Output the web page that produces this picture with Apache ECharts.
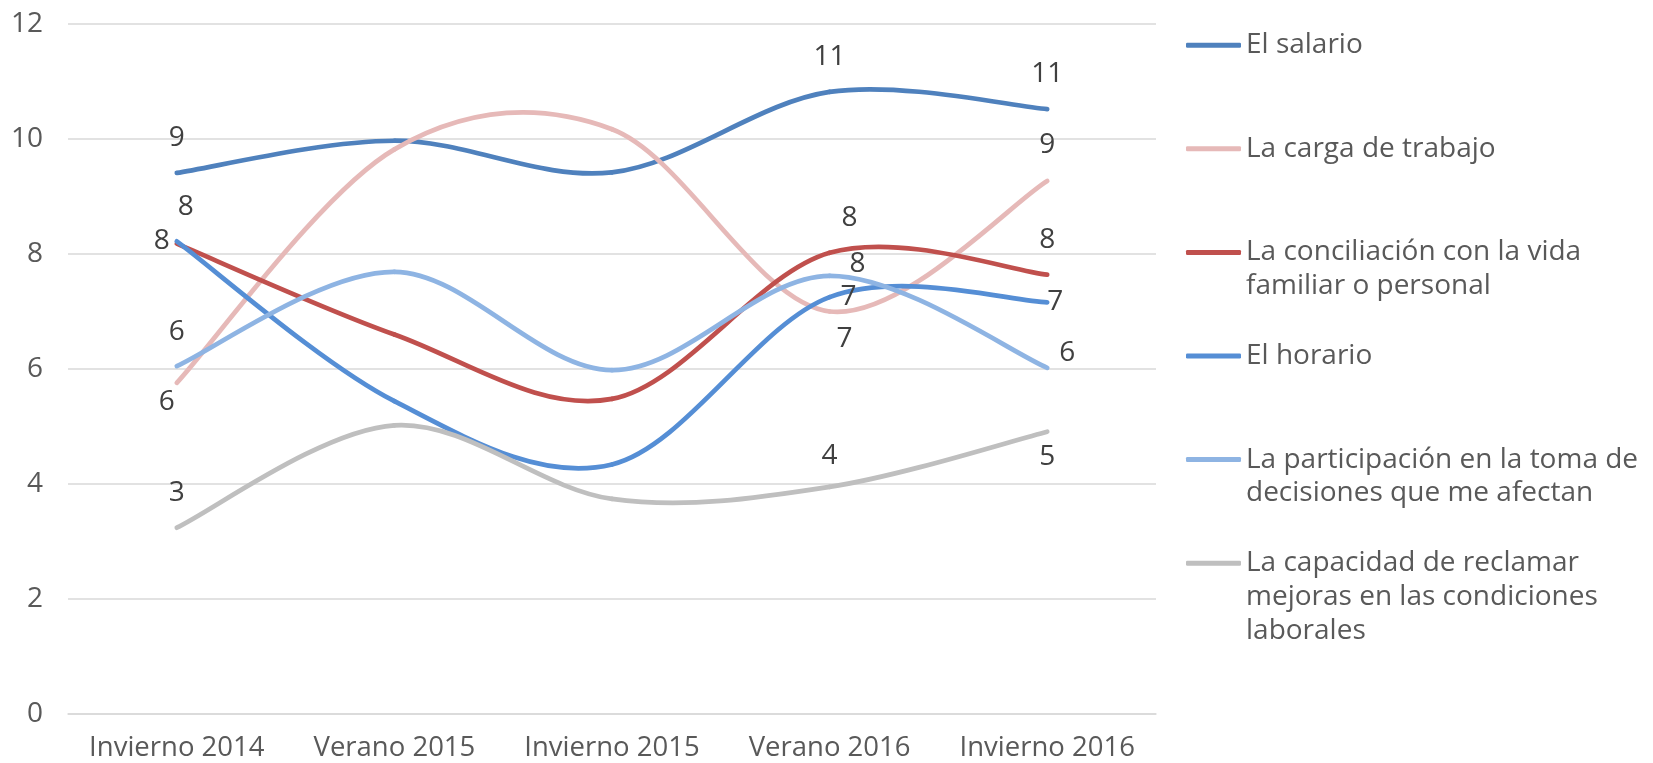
<!DOCTYPE html>
<html>
<head>
<meta charset="utf-8">
<script src="https://cdn.jsdelivr.net/npm/echarts@6/dist/echarts.min.js"></script>
<style>
  html, body { margin: 0; padding: 0; background: #fff; }
  #chart { width: 1653px; height: 763px; }
</style>
</head>
<body>
<div id="chart"></div>
<script>
var categories = ['Invierno 2014', 'Verano 2015', 'Invierno 2015', 'Verano 2016', 'Invierno 2016'];
var yTicks = [0, 2, 4, 6, 8, 10, 12];

var salario = [9.41, 9.97, 9.42, 10.82, 10.52];
var carga = [5.76, 9.82, 10.17, 7.0, 9.27];
var conciliacion = [8.18, 6.6, 5.48, 8.02, 7.64];
var horario = [8.22, 5.44, 4.34, 7.25, 7.16];
var participacion = [6.05, 7.69, 5.98, 7.62, 6.02];
var capacidad = [3.24, 5.02, 3.74, 3.95, 4.91];

var names = [
  'El salario',
  'La carga de trabajo',
  'La conciliación con la vida familiar o personal',
  'El horario',
  'La participación en la toma de decisiones que me afectan',
  'La capacidad de reclamar mejoras en las condiciones laborales'
];
var legendText = [
  ['El salario'],
  ['La carga de trabajo'],
  ['La conciliación con la vida', 'familiar o personal'],
  ['El horario'],
  ['La participación en la toma de', 'decisiones que me afectan'],
  ['La capacidad de reclamar', 'mejoras en las condiciones', 'laborales']
];
var values = [salario, carga, conciliacion, horario, participacion, capacidad];
var colors = ['#4f81bd', '#e6b9b8', '#c0504d', '#558ed5', '#8eb4e3', '#bfbfbf'];

// label placement per series / point (only first and last two points are labelled)
var labelCfg = [
  [['top', 21], null, null, ['top', 21], ['top', 21]],
  [['bottom', 5, [-10, 0]], null, null, ['bottom', 14, [15, 0]], ['top', 22]],
  [['top', 23, [9, 0]], null, null, ['top', 21, [20, 0]], ['top', 21]],
  [['left', 7], null, null, ['right', 11], ['right', 0]],
  [['top', 20], null, null, ['right', 20, [0, -12]], ['right', 12, [0, -15]]],
  [['top', 21], null, null, ['top', 17], ['bottom', 11]]
];

var font = 'Open Sans';
var textColor = '#595959';
var lineW = 4.7;

// excel-like smoothing: each point draws the catmull-rom segment to the next one
function smoothSegment(color) {
  return function (params, api) {
    var i = params.dataIndex;
    var n = params.dataInsideLength;
    if (i >= n - 1) return null;
    var pt = function (k) {
      k = Math.max(0, Math.min(n - 1, k));
      return api.coord([api.value(0, k), api.value(1, k)]);
    };
    var p0 = pt(i - 1), p1 = pt(i), p2 = pt(i + 1), p3 = pt(i + 2);
    return {
      type: 'bezierCurve',
      silent: true,
      shape: {
        x1: p1[0], y1: p1[1],
        x2: p2[0], y2: p2[1],
        cpx1: p1[0] + (p2[0] - p0[0]) / 6,
        cpy1: p1[1] + (p2[1] - p0[1]) / 6,
        cpx2: p2[0] - (p3[0] - p1[0]) / 6,
        cpy2: p2[1] - (p3[1] - p1[1]) / 6
      },
      style: { stroke: color, lineWidth: lineW, fill: null, lineCap: 'round' }
    };
  };
}

var curves = [];
var series = [];
var legends = [];
var graphics = [];
var lineH = 34;
for (var i = 0; i < names.length; i++) {
  curves.push({
    type: 'custom',
    renderItem: smoothSegment(colors[i]),
    data: values[i].map(function (v, k) { return [k, v]; }),
    silent: true,
    clip: false
  });

  var data = [];
  for (var j = 0; j < values[i].length; j++) {
    var cfg = labelCfg[i][j];
    if (cfg) {
      data.push({
        value: values[i][j],
        label: { show: true, position: cfg[0], distance: cfg[1], offset: cfg[2] || [0, 0] }
      });
    } else {
      data.push({ value: values[i][j], label: { show: false } });
    }
  }
  series.push({
    name: names[i],
    type: 'line',
    symbol: 'circle',
    symbolSize: 0,
    showSymbol: true,
    color: colors[i],
    lineStyle: { width: lineW, color: colors[i], opacity: 0 },
    label: {
      color: '#404040',
      fontSize: 28,
      fontFamily: font,
      formatter: function (p) { return Math.round(p.value); }
    },
    emphasis: { disabled: true },
    data: data
  });

  var cy = 44.7 + 103.6 * i;
  legends.push({
    data: [names[i]],
    left: 1186,
    top: cy - 16.5,
    padding: 0,
    icon: 'roundRect',
    itemWidth: 55,
    itemHeight: 5,
    selectedMode: false,
    formatter: (function (t) { return function () { return t; }; })(legendText[i][0]),
    textStyle: { color: textColor, fontSize: 28, fontFamily: font, lineHeight: lineH }
  });
  for (var k = 1; k < legendText[i].length; k++) {
    graphics.push({
      type: 'text',
      x: 1246,
      y: cy + lineH * k,
      silent: true,
      style: {
        text: legendText[i][k],
        fill: textColor,
        font: '28px "' + font + '"',
        verticalAlign: 'middle'
      }
    });
  }
}

var chart = echarts.init(document.getElementById('chart'));
chart.setOption({
  animation: false,
  backgroundColor: '#ffffff',
  grid: { left: 68, right: 497, top: 24, bottom: 49, outerBoundsMode: 'none' },
  legend: legends,
  graphic: graphics,
  xAxis: {
    type: 'category',
    data: categories,
    boundaryGap: true,
    axisLine: { show: true, lineStyle: { color: '#d9d9d9', width: 1.5 } },
    axisTick: { show: false },
    axisLabel: { color: textColor, fontSize: 27.5, fontFamily: font, margin: 20, interval: 0 }
  },
  yAxis: {
    type: 'value',
    min: yTicks[0],
    max: yTicks[yTicks.length - 1],
    interval: yTicks[1] - yTicks[0],
    axisLine: { show: false },
    axisTick: { show: false },
    splitLine: { lineStyle: { color: '#d9d9d9', width: 1.5 } },
    axisLabel: { color: textColor, fontSize: 28, fontFamily: font, margin: 25 }
  },
  series: curves.concat(series)
});
</script>
</body>
</html>
